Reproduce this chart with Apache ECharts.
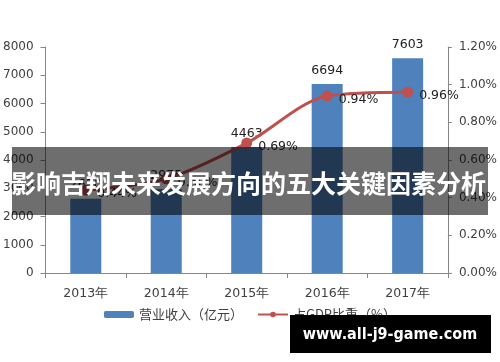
<!DOCTYPE html>
<html><head><meta charset="utf-8">
<script src="https://cdn.jsdelivr.net/npm/echarts@6/dist/echarts.min.js"></script>
<style>html,body{margin:0;padding:0;background:#fff}#c{width:500px;height:362px}</style>
</head><body><div id="c"></div>
<script>
const categories = ['2013年','2014年','2015年','2016年','2017年'];
const revenue = [2630, 2975, 4463, 6694, 7603];
const gdpShare = [0.44, 0.50, 0.69, 0.94, 0.96];
const revenueName = '营业收入（亿元）';
const shareName = '占GDP比重（%）';
const bannerText = '影响吉翔未来发展方向的五大关键因素分析';
const siteText = 'www.all-j9-game.com';

const txt = '#404040';
const axisCol = '#868686';
const chart = echarts.init(document.getElementById('c'));
chart.setOption({
  animation: false,
  grid: {left: 45, right: 51, top: 47, bottom: 89},
  legend: {
    bottom: 36, left: 'center', itemGap: 14,
    textStyle: {color: txt, fontSize: 13, fontFamily: 'Noto Sans CJK SC'},
    data: [{name: revenueName}, {name: shareName}],
    itemWidth: 30, itemHeight: 7
  },
  xAxis: {
    type: 'category', data: categories,
    axisLine: {lineStyle: {color: axisCol}},
    axisTick: {show: true, length: 5, lineStyle: {color: axisCol}},
    axisLabel: {color: txt, fontSize: 12.5, margin: 14, fontFamily: 'DejaVu Sans'}
  },
  yAxis: [{
    type: 'value', min: 0, max: 8000, interval: 1000,
    axisLine: {show: true, lineStyle: {color: axisCol}},
    axisTick: {show: true, length: 5, lineStyle: {color: axisCol}},
    splitLine: {show: false},
    axisLabel: {color: txt, fontSize: 12, margin: 12, fontFamily: 'DejaVu Sans',
      formatter: v => String(v)}
  }, {
    type: 'value', min: 0, max: 1.2, interval: 0.2,
    axisLine: {show: true, lineStyle: {color: axisCol}},
    axisTick: {show: true, length: 4, lineStyle: {color: axisCol}},
    splitLine: {show: false},
    axisLabel: {color: txt, fontSize: 12, margin: 11, fontFamily: 'DejaVu Sans',
      formatter: v => v.toFixed(2) + '%'}
  }],
  series: [{
    name: revenueName, type: 'bar', data: revenue, barWidth: 31,
    itemStyle: {color: '#4f81bd'},
    label: {show: true, position: 'top', distance: 7, color: '#222', fontSize: 12.5, fontFamily: 'DejaVu Sans'}
  }, {
    name: shareName, type: 'line', yAxisIndex: 1, data: gdpShare, smooth: 0.3,
    symbol: 'circle', symbolSize: 11,
    lineStyle: {color: '#c0504d', width: 3},
    itemStyle: {color: '#c0504d'},
    label: {show: true, position: 'right', distance: 6, offset: [0, 4], color: '#222', fontSize: 12.5,
      fontFamily: 'DejaVu Sans', formatter: p => p.value.toFixed(2) + '%'}
  }],
  graphic: [{
    type: 'rect', z: 100, shape: {x: 12, y: 147, width: 476, height: 68},
    style: {fill: 'rgba(0,0,0,0.57)'}
  }, {
    type: 'text', z: 101, x: 11, y: 183,
    style: {text: bannerText, fill: '#fff', font: 'bold 25px "Noto Sans CJK SC"', textVerticalAlign: 'middle'}
  }, {
    type: 'rect', z: 100, shape: {x: 290, y: 315, width: 201, height: 38},
    style: {fill: '#000'}
  }, {
    type: 'text', z: 101, x: 390, y: 335,
    style: {text: siteText, fill: '#fff', font: 'bold 16px "DejaVu Sans Condensed", "DejaVu Sans"', textAlign: 'center', textVerticalAlign: 'middle'}
  }]
});
</script></body></html>
